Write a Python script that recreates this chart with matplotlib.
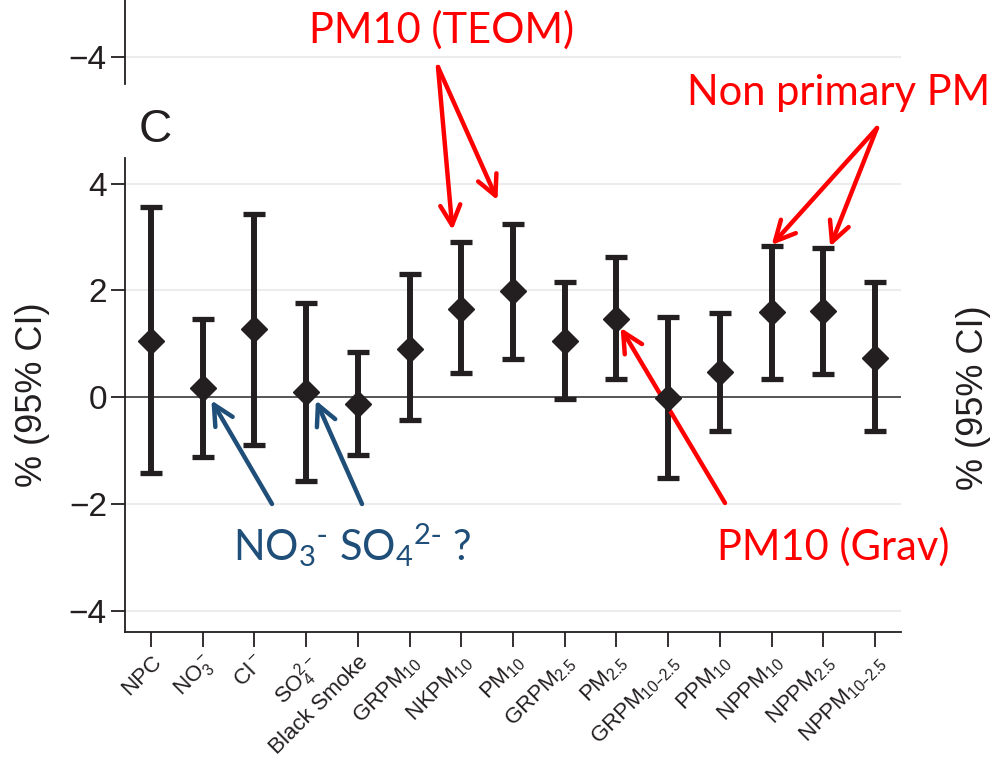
import numpy as np
import matplotlib
matplotlib.use("Agg")
import matplotlib.pyplot as plt

# ── Data (% change with 95% CI) ──────────────────────────────────────────────
labels = ["NPC", r"NO$_3^-$", r"Cl$^-$", r"SO$_4^{2-}$", "Black Smoke",
          r"GRPM$_{10}$", r"NKPM$_{10}$", r"PM$_{10}$", r"GRPM$_{2.5}$",
          r"PM$_{2.5}$", r"GRPM$_{10–2.5}$", r"PPM$_{10}$", r"NPPM$_{10}$",
          r"NPPM$_{2.5}$", r"NPPM$_{10–2.5}$"]
est = [1.05, 0.17, 1.27, 0.09, -0.13, 0.90, 1.66, 1.98, 1.05,
       1.47, -0.02, 0.47, 1.59, 1.61, 0.73]
lo = [-1.42, -1.12, -0.90, -1.57, -1.08, -0.43, 0.45, 0.71, -0.04,
      0.34, -1.52, -0.64, 0.34, 0.43, -0.64]
hi = [3.57, 1.46, 3.44, 1.76, 0.84, 2.30, 2.90, 3.25, 2.15,
      2.62, 1.50, 1.57, 2.83, 2.80, 2.15]
yticks = [-4, -2, 0, 2, 4]

plt.rcParams["font.family"] = ["Liberation Sans", "DejaVu Sans"]
plt.rcParams["mathtext.default"] = "regular"

W, H = 996, 757
fig = plt.figure(figsize=(W / 100, H / 100), dpi=100)


def fpx(x, y):
    # image pixel (top-left origin) -> figure fraction
    return (x / W, 1 - y / H)


dark = "#231F20"
grid = "#ECECEC"
red = "#FF0000"
blue = "#1F4E79"

# ── piece of the panel above (only its bottom is visible) ────────────────────
top = fig.add_axes([125 / W, 1 - 84 / H, 776 / W, 0.2])
top.set_xlim(-0.5, 14.5)
top.set_ylim(-4.506, -4.506 + 0.2 * H / 53.4)
top.set_yticks([-4])
top.set_yticklabels(["\u22124"])
top.set_xticks([])
for s in ["top", "right", "bottom"]:
    top.spines[s].set_visible(False)
top.spines["left"].set_color(dark)
top.spines["left"].set_linewidth(1.3)
top.tick_params(axis="y", length=10, width=1.3, color=dark, labelsize=24,
                labelcolor=dark, pad=3)
top.grid(axis="y", color=grid, lw=1.5)
top.set_axisbelow(True)

# ── panel C ──────────────────────────────────────────────────────────────────
ax = fig.add_axes([125 / W, 1 - 632 / H, 776 / W, (632 - 158) / H])
x = np.arange(len(labels))
est_a, lo_a, hi_a = np.array(est), np.array(lo), np.array(hi)

ax.axhline(0, color="#555555", lw=1.4, zorder=1)
ax.errorbar(x, est_a, yerr=[est_a - lo_a, hi_a - est_a], fmt="D", color=dark,
            ms=13, elinewidth=4.3, capsize=8, capthick=3.8, zorder=3)

ax.set_xlim(-0.5, 14.5)
ax.set_ylim(-4.40, 4.48)
ax.set_yticks(yticks)
ax.set_yticklabels([str(t).replace("-", "\u2212") for t in yticks])
ax.set_xticks(x)
ax.set_xticklabels(labels, rotation=45, ha="right", va="top",
                   rotation_mode="anchor", fontsize=16, color=dark)
ax.grid(axis="y", color=grid, lw=1.5)
ax.set_axisbelow(True)
for s in ["top", "right"]:
    ax.spines[s].set_visible(False)
for s in ["left", "bottom"]:
    ax.spines[s].set_color(dark)
    ax.spines[s].set_linewidth(1.3)
ax.tick_params(axis="y", length=10, width=1.3, color=dark, labelsize=24,
               labelcolor=dark, pad=3)
ax.tick_params(axis="x", length=11, width=1.3, color=dark, pad=3)
ax.set_ylabel("% (95% CI)", fontsize=26, color=dark)
ax.yaxis.set_label_coords(-0.097, 0.5)

fig.text(*fpx(155, 130), "C", fontsize=33, color=dark, ha="center", va="center")
fig.text(*fpx(973, 398), "% (95% CI)", fontsize=26, color=dark, rotation=90,
         ha="center", va="center")

# ── hand-drawn style annotations ─────────────────────────────────────────────
afont = ["Lato", "DejaVu Sans"]


def arrow(xy, tail, color):
    ax.annotate("", xy=xy, xycoords="data", xytext=fpx(*tail),
                textcoords="figure fraction", annotation_clip=False,
                arrowprops=dict(arrowstyle="->", lw=3.2, color=color,
                                mutation_scale=36, shrinkA=0, shrinkB=0))


fig.text(*fpx(442, 30), "PM10 (TEOM)", fontsize=30, color=red,
         ha="center", va="center", family=afont)
arrow((x[6] - 0.17, hi[6] + 0.23), (438, 67), red)
arrow((x[7] - 0.30, hi[7] + 0.44), (438, 67), red)

fig.text(*fpx(687, 105), "Non primary PM", fontsize=30, color=red,
         ha="left", va="baseline", family=afont)
arrow((x[12], hi[12] + 0.02), (877, 128), red)
arrow((x[13] + 0.13, hi[13] + 0.02), (877, 128), red)

fig.text(*fpx(717, 560), "PM10 (Grav)", fontsize=30, color=red,
         ha="left", va="baseline", family=afont)
arrow((x[9] + 0.08, est[9] - 0.17), (725, 503), red)

fig.text(*fpx(233, 560), r"NO$_3$$^{\text{-}}$ SO$_4$$^{2\text{-}}$ ?",
         fontsize=30, color=blue, ha="left", va="baseline", family=afont)
arrow((x[1] + 0.17, est[1] - 0.23), (272, 504), blue)
arrow((x[3] + 0.19, est[3] - 0.15), (362, 504), blue)

fig.savefig("out.png", dpi=100)
